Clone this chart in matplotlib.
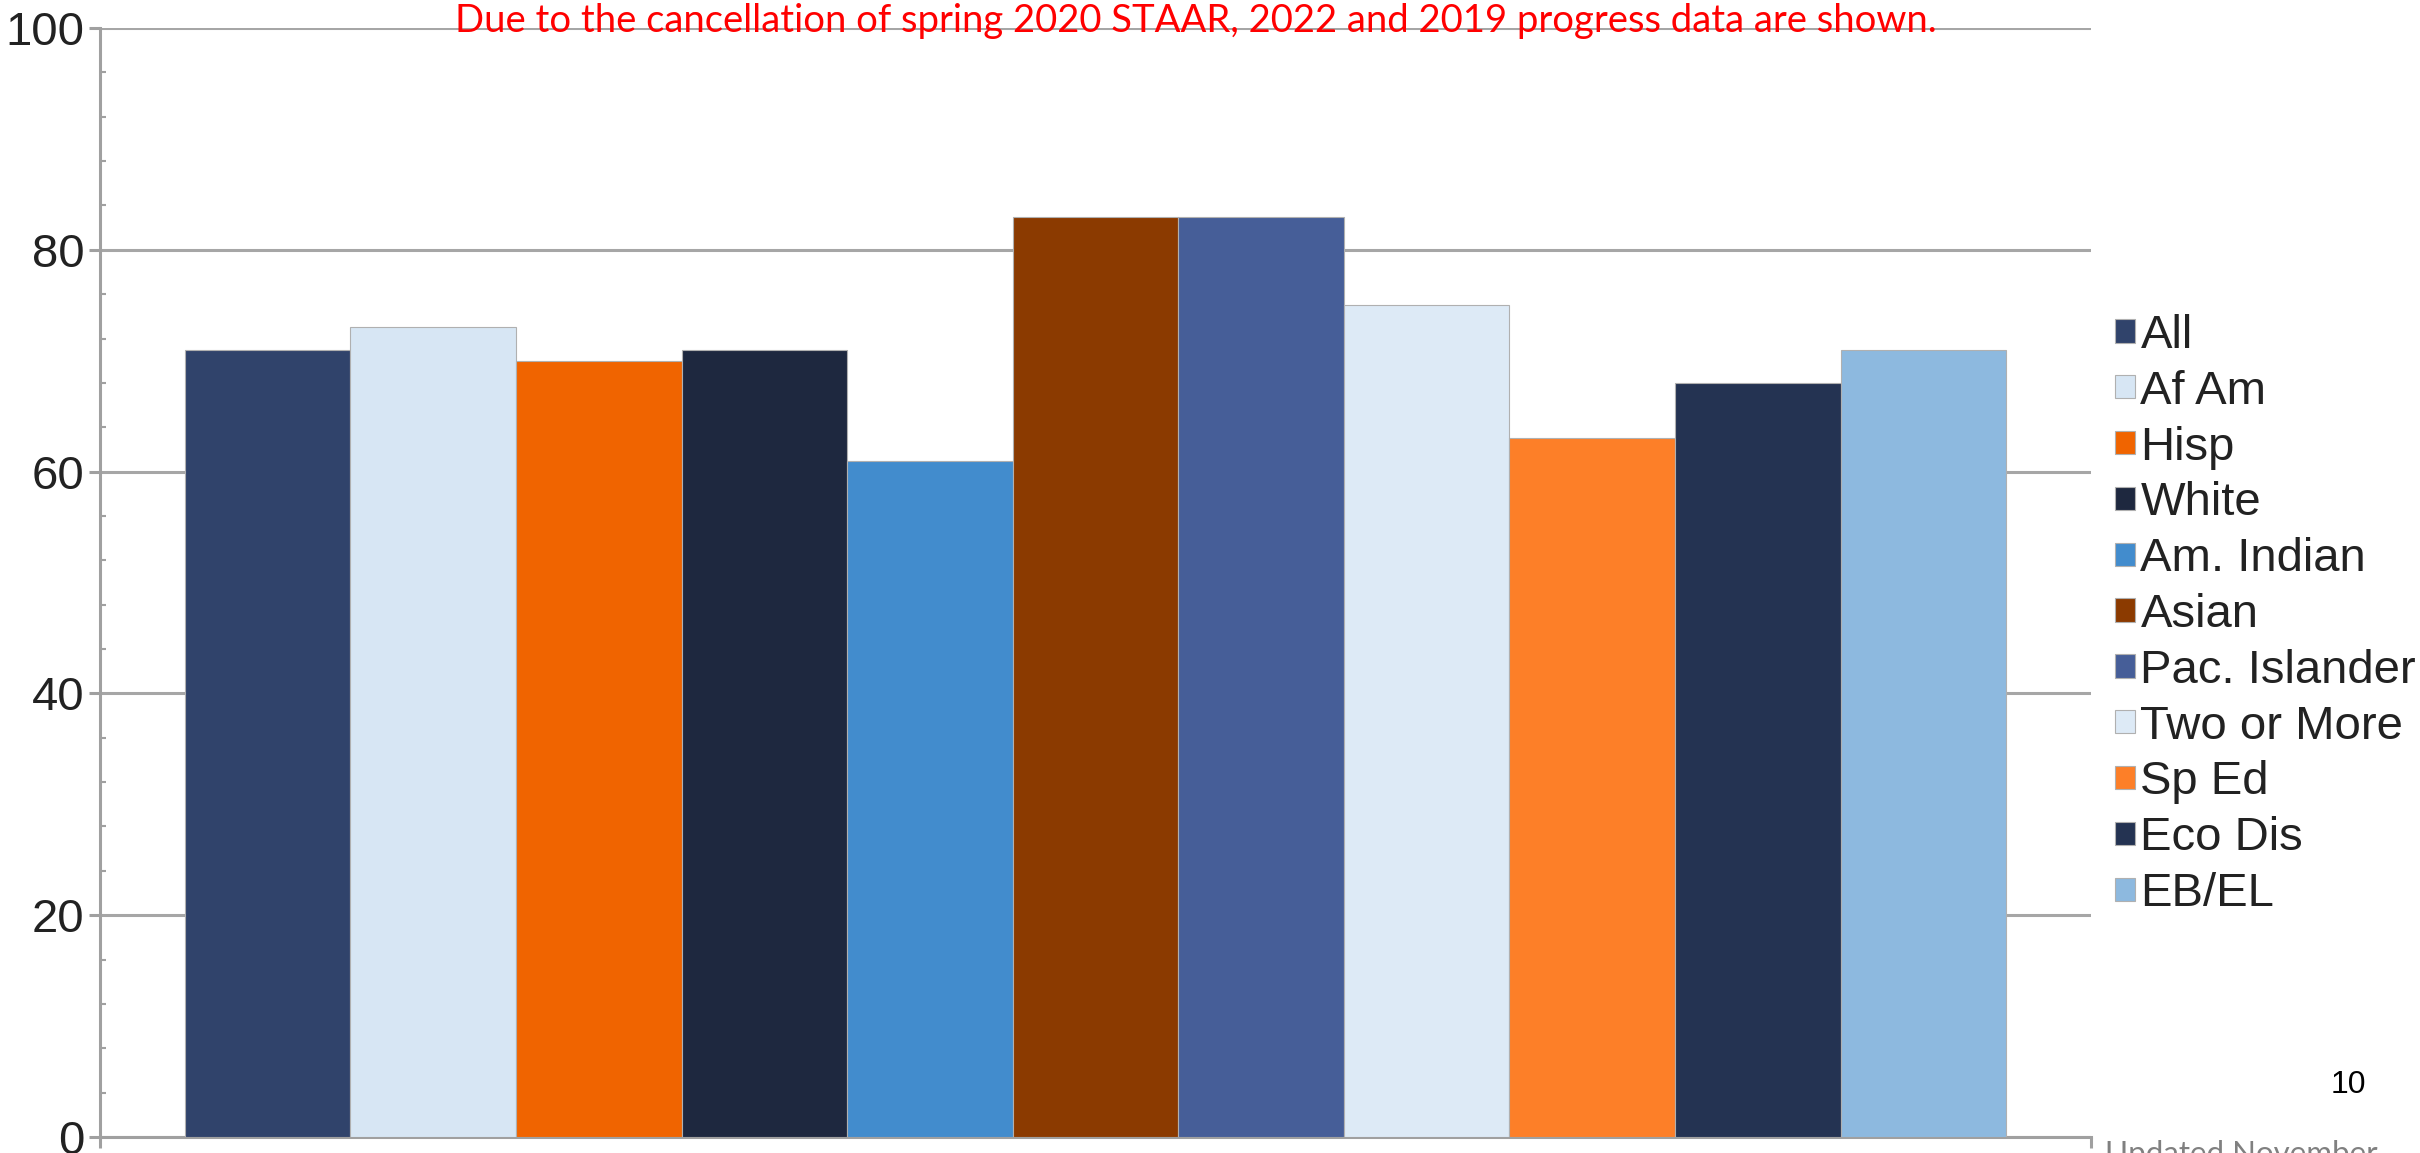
import numpy as np
import matplotlib
matplotlib.use("Agg")
import matplotlib.pyplot as plt
from matplotlib.ticker import MultipleLocator

# groups and their scores (percent)
groups = ['All', 'Af Am', 'Hisp', 'White', 'Am. Indian', 'Asian',
          'Pac. Islander', 'Two or More', 'Sp Ed', 'Eco Dis', 'EB/EL']
scores = [71, 73, 70, 71, 61, 83, 83, 75, 63, 68, 71]
colors = ['#30436B', '#D7E6F4', '#F06400', '#1E283F', '#428CCD', '#8B3A00',
          '#465E98', '#DDEAF6', '#FD7F28', '#243352', '#8DB9DF']
y_ticks = [0, 20, 40, 60, 80, 100]

note = 'Due to the cancellation of spring 2020 STAAR, 2022 and 2019 progress data are shown.'

W, H = 2420, 1153
fig = plt.figure(figsize=(W / 100, H / 100), dpi=100)
ax = fig.add_axes([100 / W, 1 - 1137 / H, (2091 - 100) / W, (1137 - 28) / H])

x = np.arange(len(groups))
for i in range(len(groups)):
    ax.bar(x[i], scores[i], width=1.0, color=colors[i], edgecolor='#B0B0B0',
           linewidth=0.8, label=groups[i], zorder=3)

ax.set_xlim(-1.013, len(groups) - 1 + 1.013)
ax.set_ylim(0, 100)
ax.set_yticks(y_ticks)
ax.yaxis.set_minor_locator(MultipleLocator(4))
ax.grid(axis='y', which='major', color='#A6A6A6', linewidth=2.2, zorder=0)
ax.set_axisbelow(True)

for s in ['top', 'right']:
    ax.spines[s].set_visible(False)
for s in ['left', 'bottom']:
    ax.spines[s].set_color('#A0A0A0')
    ax.spines[s].set_linewidth(2.2)

ax.tick_params(axis='y', which='major', direction='out', length=8, width=2.2,
               color='#A0A0A0', labelsize=34, labelcolor='#222222', pad=3)
ax.tick_params(axis='y', which='minor', direction='in', length=4, width=1.5,
               color='#A0A0A0')
ax.set_xticks(list(ax.get_xlim()))
ax.tick_params(axis='x', direction='out', length=8, width=2.2, color='#A0A0A0',
               labelbottom=False)
for lab in ax.get_yticklabels():
    lab.set_fontfamily('Liberation Sans')

fig.text(1196 / W, 1 - 21 / H, note, color='#FF0000', fontsize=27.5,
         family='Lato', ha='center', va='center')

leg = fig.legend(loc='center left', bbox_to_anchor=(2115 / W, 1 - 615 / H),
                 frameon=False, borderpad=0, borderaxespad=0,
                 handlelength=0.42, handleheight=0.38, handletextpad=0.12,
                 labelspacing=0.25,
                 prop={'family': 'Liberation Sans', 'size': 34})
for t in leg.get_texts():
    t.set_color('#222222')

fig.text(2348 / W, 1 - 1085 / H, '10', fontsize=23, family='Liberation Sans',
         color='black', ha='center', va='center')
fig.text(2241 / W, 1 - 1140 / H, 'Updated November', fontsize=22.5,
         family='Lato', color='#808080', ha='center', va='top')

fig.savefig('out.png', dpi=100)
